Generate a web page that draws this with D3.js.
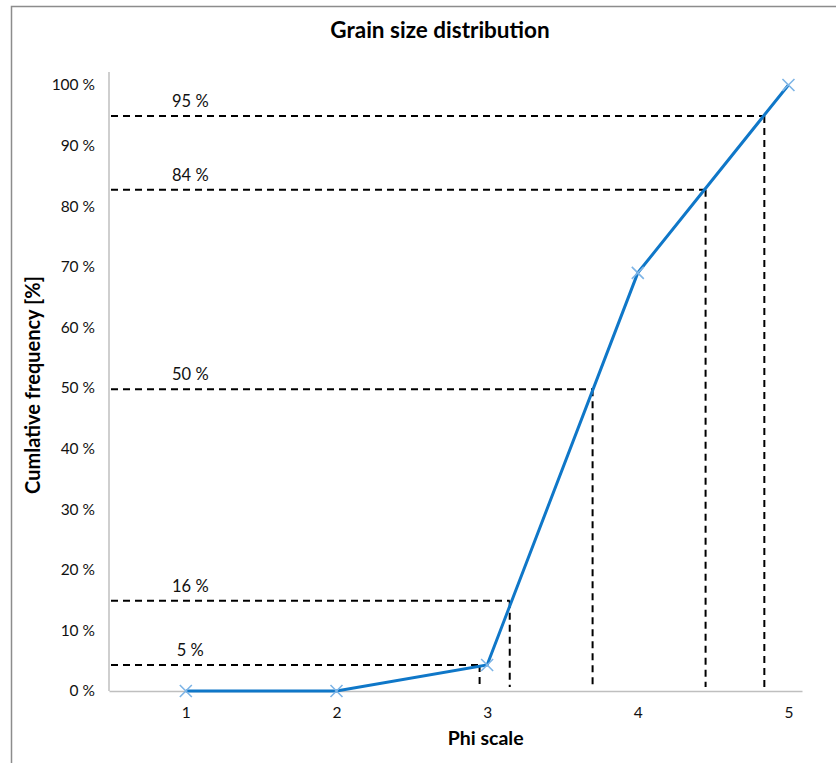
<!DOCTYPE html>
<html><head><meta charset="utf-8">
<script src="https://cdn.jsdelivr.net/npm/d3@7"></script>
<style>body{margin:0;background:#fff}svg{display:block}</style>
</head><body>
<script>
const phi = [1, 2, 3, 4, 5];
const cumFreq = [0, 0, 4.3, 69, 100];
const yTicks = [0, 10, 20, 30, 40, 50, 60, 70, 80, 90, 100];
const xTicks = [1, 2, 3, 4, 5];
const pctLabels = ["5 %", "16 %", "50 %", "84 %", "95 %"];
const pctLevels = [4.3, 14.9, 49.8, 82.7, 94.9];
const pctPhi = [2.95, 3.15, 3.70, 4.45, 4.84];

const W = 836, H = 763;
const svg = d3.select("body").append("svg").attr("width", W).attr("height", H);
const font = "Lato, 'Open Sans', sans-serif";

svg.append("rect").attr("x", 11.5).attr("y", 6.5).attr("width", 900).attr("height", 900)
  .attr("fill", "#fff").attr("stroke", "#8c8c8c").attr("stroke-width", 1.5);

const x = d3.scaleLinear().domain([0.49, 5.09]).range([109, 802]);
const y = d3.scaleLinear().domain([0, 100]).range([691, 85]);

// title
svg.append("text").attr("x", 440).attr("y", 38).attr("text-anchor", "middle")
  .attr("font-family", font).attr("font-weight", "bold").attr("font-size", 22.5)
  .attr("fill", "#000").text("Grain size distribution");

// y axis
const yAxis = d3.axisLeft(y).tickValues(yTicks).tickSize(0).tickPadding(14).tickFormat(d => d + " %");
const gy = svg.append("g").attr("transform", `translate(${x(0.49)},0)`).call(yAxis);
gy.select(".domain").attr("stroke", "#bfbfbf").attr("stroke-width", 1.5).attr("d", `M0,72V${y(0)}`);
gy.selectAll("text").attr("font-family", font).attr("font-size", 15.5).attr("fill", "#111");

// x axis
const xAxis = d3.axisBottom(x).tickValues(xTicks).tickSize(0).tickPadding(16).tickFormat(d3.format("d"));
const gx = svg.append("g").attr("transform", `translate(0,${y(0)})`).call(xAxis);
gx.select(".domain").attr("stroke", "#bfbfbf").attr("stroke-width", 1.5);
gx.selectAll("text").attr("font-family", font).attr("font-size", 15.5).attr("fill", "#111");

// axis titles
svg.append("text").attr("x", x(2.99)).attr("y", 745).attr("text-anchor", "middle")
  .attr("font-family", font).attr("font-weight", "bold").attr("font-size", 19.5).text("Phi scale");
svg.append("text").attr("transform", `translate(40,${y(50.5)}) rotate(-90)`).attr("text-anchor", "middle")
  .attr("font-family", font).attr("font-weight", "bold").attr("font-size", 20).text("Cumlative frequency [%]");

// dashed guides
const guides = pctLevels.map((v, i) => ({v, p: pctPhi[i], label: pctLabels[i]}));
const gg = svg.append("g");
guides.forEach(d => {
  gg.append("line").attr("x1", x(0.49) + 2).attr("x2", x(d.p)).attr("y1", y(d.v)).attr("y2", y(d.v))
    .attr("stroke", "#000").attr("stroke-width", 2).attr("stroke-dasharray", "7,5");
  gg.append("line").attr("x1", x(d.p)).attr("x2", x(d.p)).attr("y1", y(d.v)).attr("y2", y(0) - 4)
    .attr("stroke", "#000").attr("stroke-width", 2).attr("stroke-dasharray", "7,5");
  gg.append("text").attr("x", x(1.03)).attr("y", y(d.v) - 9).attr("text-anchor", "middle")
    .attr("font-family", font).attr("font-size", 16.5).attr("fill", "#111").text(d.label);
});

// line
const pts = phi.map((p, i) => [p, cumFreq[i]]);
svg.append("path").datum(pts)
  .attr("d", d3.line().x(d => x(d[0])).y(d => y(d[1])))
  .attr("fill", "none").attr("stroke", "#0f77c8").attr("stroke-width", 3);

// markers
const s = 6;
svg.append("g").selectAll("path").data(pts).join("path")
  .attr("d", d => {
    const cx = x(d[0]), cy = y(d[1]);
    return `M${cx - s},${cy - s}L${cx + s},${cy + s}M${cx - s},${cy + s}L${cx + s},${cy - s}`;
  })
  .attr("stroke", "#7db4e6").attr("stroke-width", 1.6).attr("fill", "none");
</script>
</body></html>
